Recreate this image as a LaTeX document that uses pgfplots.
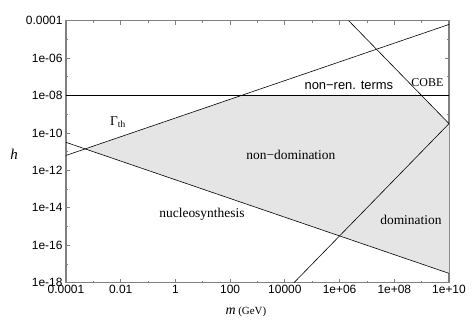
\documentclass[border=0pt]{standalone}
\usepackage{fontspec}
\setmainfont{Liberation Serif}
\newfontfamily\sansfont{Liberation Sans}
\usepackage{pgfplots}
\pgfplotsset{compat=1.18}
\definecolor{frame}{gray}{0.5}
\definecolor{shade}{gray}{0.9}
\begin{document}
\begin{tikzpicture}
\begin{axis}[
  at={(0,0)}, anchor=south west,
  scale only axis, width=383bp, height=262bp,
  xmode=log, ymode=log,
  xmin=1e-4, xmax=1e10, ymin=1e-18, ymax=1e-4,
  axis line style={frame, line width=1.1pt},
  xtick={1e-4,1e-2,1,1e2,1e4,1e6,1e8,1e10},
  xticklabels={0.0001,0.01,1,100,10000,1e+06,1e+08,1e+10},
  minor xtick={1e-3,1e-1,10,1e3,1e5,1e7,1e9},
  ytick={1e-18,1e-16,1e-14,1e-12,1e-10,1e-8,1e-6,1e-4},
  yticklabels={1e-18,1e-16,1e-14,1e-12,1e-10,1e-08,1e-06,0.0001},
  minor ytick={1e-17,1e-15,1e-13,1e-11,1e-9,1e-7,1e-5},
  tick style={frame, line width=0.8pt},
  major tick length=4bp, minor tick length=2bp,
  tick align=inside,
  tick label style={font=\sansfont\fontsize{12}{14}\selectfont},
  xticklabel style={yshift=1bp},
  every axis x label/.style={at={(rel axis cs:0.47,0)}, anchor=base, yshift=-32bp},
  every axis y label/.style={at={(rel axis cs:0,0.49)}, anchor=center, xshift=-52bp},
  xlabel={{\fontsize{14}{16}\selectfont\itshape m} {\fontsize{11}{13}\selectfont(GeV)}},
  ylabel={\fontsize{15}{17}\selectfont\itshape h},
]
% allowed region
\addplot[draw=none, fill=shade] coordinates {
  (5.012e-4,1.413e-11) (251.2,1e-8) (1e9,1e-8) (1e10,3.16e-10) (1e10,3.16e-18)} --cycle;
% non-renormalisable terms
\addplot[black, line width=0.6bp] coordinates {(1e-4,1e-8) (1e10,1e-8)};
% Gamma_th
\addplot[black, line width=0.6bp] coordinates {(1e-4,6.31e-12) (1e10,6.31e-5)};
% nucleosynthesis
\addplot[black, line width=0.6bp] coordinates {(1e-4,3.16e-11) (1e10,3.16e-18)};
% domination
\addplot[black, line width=0.6bp] coordinates {(2.154e4,1e-18) (1e10,3.16e-10)};
% COBE
\addplot[black, line width=0.6bp] coordinates {(2.154e6,1e-4) (1e10,3.16e-10)};

\node[font=\fontsize{13.5}{15}\selectfont] at (axis cs:7.94e-3,3.8e-10) {Γ\textsubscript{th}};
\node[font=\sansfont\fontsize{13}{15}\selectfont] at (axis cs:2.19e6,3.63e-8) {non−ren. terms};
\node[font=\fontsize{12}{14}\selectfont] at (axis cs:1.62e9,4.68e-8) {COBE};
\node[font=\fontsize{13.5}{15}\selectfont] at (axis cs:1.66e4,6.61e-12) {non−domination};
\node[font=\fontsize{13.5}{15}\selectfont] at (axis cs:9.33,4.5e-15) {nucleosynthesis};
\node[font=\fontsize{13.5}{15}\selectfont] at (axis cs:4.07e8,2.19e-15) {domination};
\end{axis}
\pgfresetboundingbox
\path (-66bp,-44bp) rectangle (409bp,282.7bp);
\end{tikzpicture}
\end{document}
